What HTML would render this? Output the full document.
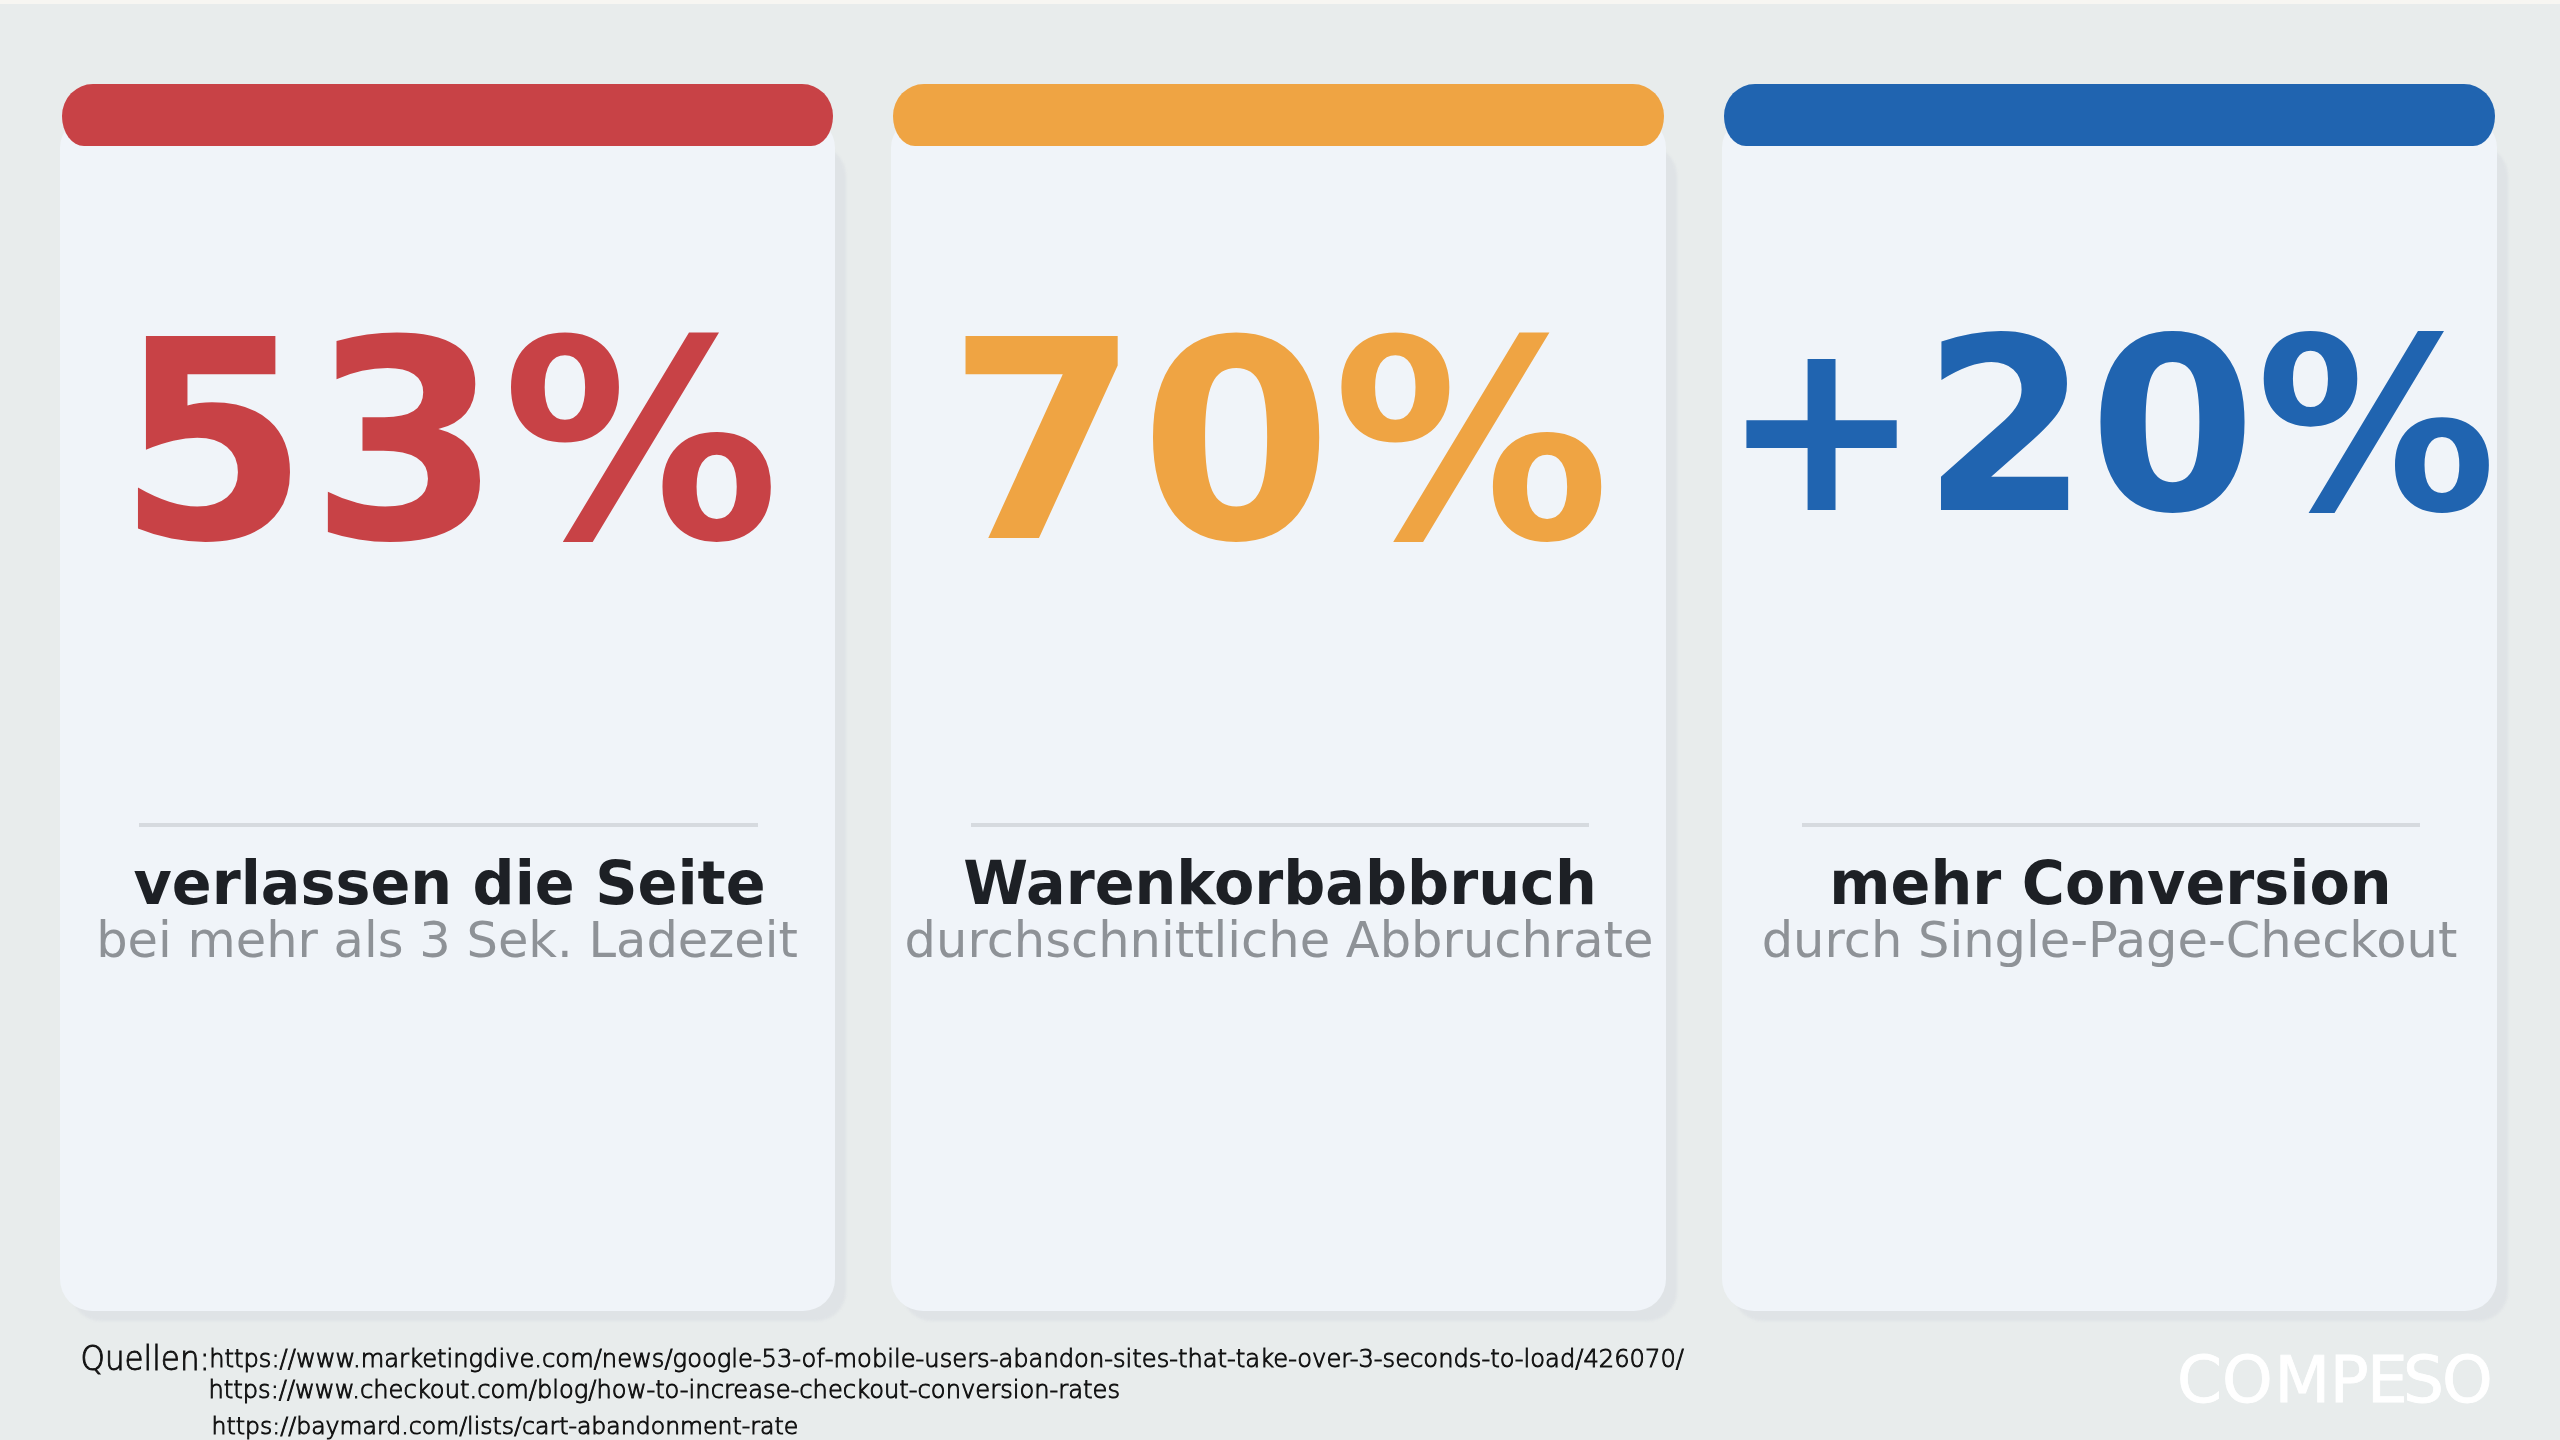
<!DOCTYPE html>
<html lang="de">
<head>
<meta charset="utf-8">
<title>Statistiken</title>
<style>
html,body{margin:0;padding:0;}
body{width:2560px;height:1440px;overflow:hidden;background:#e8ecec;position:relative;}
.top{position:absolute;left:0;top:0;width:2560px;height:4px;background:#f7f6f2;}
.shadow{position:absolute;top:146px;width:775px;height:1175px;background:#dfe3e6;border-radius:30px;filter:blur(1.2px);}
.card{position:absolute;top:116px;width:775px;height:1195px;background:#f0f4f9;border-radius:32px;}
.bar{position:absolute;top:84px;width:771px;height:62px;border-radius:31px 31px 22px 22px / 32px 32px 30px 30px;}
svg{position:absolute;left:0;top:0;will-change:transform;}
</style>
</head>
<body>
<div class="top"></div>
<div class="shadow" style="left:71px"></div>
<div class="shadow" style="left:902px"></div>
<div class="shadow" style="left:1733px"></div>
<div class="card" style="left:60px"></div>
<div class="card" style="left:891px"></div>
<div class="card" style="left:1722px"></div>
<div class="bar" style="left:62px;background:#c84246"></div>
<div class="bar" style="left:893px;background:#efa443"></div>
<div class="bar" style="left:1724px;background:#2064b0"></div>
<svg width="2560" height="1440" viewBox="0 0 2560 1440" xmlns="http://www.w3.org/2000/svg">
  <g font-family="DejaVu Sans, sans-serif" font-weight="bold">
    <text x="116.6" y="538" font-size="277" fill="#c84246">53%</text>
    <text x="947" y="538" font-size="277" fill="#efa443">70%</text>
    <text x="1721" y="509.5" font-size="240" fill="#2064b0">+20%</text>
  </g>
  <g fill="#d6dadf">
    <rect x="139" y="823" width="619" height="4" />
    <rect x="971" y="823" width="618" height="4" />
    <rect x="1802" y="823" width="618" height="4" />
  </g>
  <g font-family="DejaVu Sans, sans-serif" font-weight="bold" font-size="60.3" fill="#1d2025" text-anchor="middle">
    <text x="449.5" y="904" transform="translate(449.5 0) scale(0.975 1) translate(-449.5 0)">verlassen die Seite</text>
    <text x="1280" y="904" transform="translate(1280 0) scale(0.975 1) translate(-1280 0)">Warenkorbabbruch</text>
    <text x="2110.5" y="904" transform="translate(2110.5 0) scale(0.975 1) translate(-2110.5 0)">mehr Conversion</text>
  </g>
  <g font-family="DejaVu Sans, sans-serif" font-size="49.5" fill="#8e9297" text-anchor="middle">
    <text x="447" y="957">bei mehr als 3 Sek. Ladezeit</text>
    <text x="1279" y="957">durchschnittliche Abbruchrate</text>
    <text x="2109.5" y="957">durch Single-Page-Checkout</text>
  </g>
  <g font-family="DejaVu Sans, sans-serif" font-weight="200" fill="#111111" stroke="#111111" stroke-width="0.95">
    <text x="80.5" y="1370" font-size="33" textLength="129.5" lengthAdjust="spacingAndGlyphs">Quellen:</text>
    <text x="209.2" y="1367" font-size="24.2">https://www.marketingdive.com/news/google-53-of-mobile-users-abandon-sites-that-take-over-3-seconds-to-load/426070/</text>
    <text x="208.4" y="1398" font-size="24.2">https://www.checkout.com/blog/how-to-increase-checkout-conversion-rates</text>
    <text x="211.6" y="1434" font-size="23.6">https://baymard.com/lists/cart-abandonment-rate</text>
  </g>
  <text x="2176.97 2222.12 2274.56 2329.69 2367.12 2403.05 2441.92" y="1402" font-family="DejaVu Sans, sans-serif" font-size="64.5" fill="#ffffff" stroke="#ffffff" stroke-width="0.8">COMPESO</text>
</svg>
</body>
</html>
